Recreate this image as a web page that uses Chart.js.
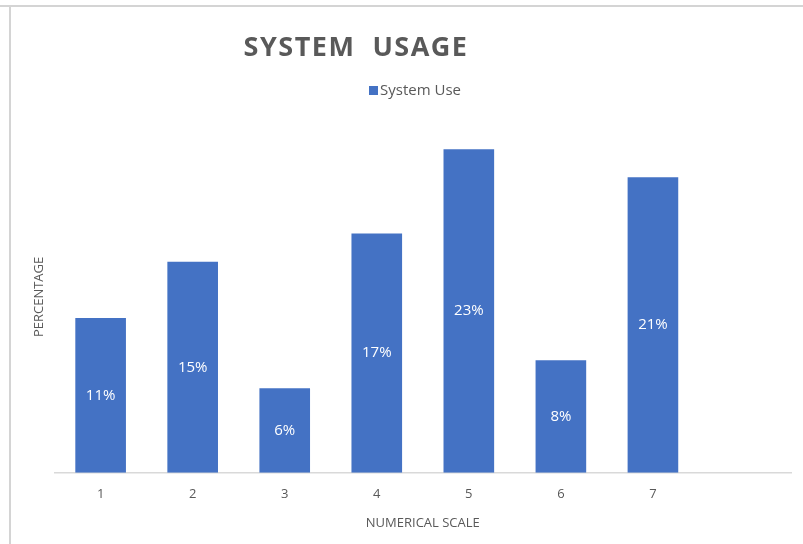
<!DOCTYPE html>
<html>
<head>
<meta charset="utf-8">
<script src="https://cdn.jsdelivr.net/npm/chart.js@4.4.1/dist/chart.umd.min.js"></script>
<style>
  html, body { margin: 0; padding: 0; background: #ffffff; }
  #wrap { width: 803px; height: 544px; position: relative; }
</style>
</head>
<body>
<div id="wrap"><canvas id="c" width="803" height="544"></canvas></div>
<script>
const categories = ['1', '2', '3', '4', '5', '6', '7', ''];
const systemUse = [11, 15, 6, 17, 23, 8, 21, null];
const seriesName = 'System Use';
const chartTitle = 'SYSTEM  USAGE';
const xTitle = 'NUMERICAL SCALE';
const yTitle = 'PERCENTAGE';

const BLUE = '#4472C4';
const GREY = '#595959';
const FONT = "'Open Sans', 'Liberation Sans', sans-serif";

const decor = {
  id: 'decor',
  beforeDraw(chart) {
    const ctx = chart.ctx;
    ctx.save();
    ctx.fillStyle = '#ffffff';
    ctx.fillRect(0, 0, chart.width, chart.height);
    ctx.strokeStyle = '#d4d4d4';
    ctx.lineWidth = 2;
    ctx.beginPath();
    ctx.moveTo(0, 6); ctx.lineTo(chart.width, 6);
    ctx.moveTo(10, 6); ctx.lineTo(10, chart.height);
    ctx.stroke();
    ctx.restore();
  },
  afterDraw(chart) {
    const ctx = chart.ctx;
    ctx.save();
    // title
    ctx.fillStyle = GREY;
    ctx.font = "bold 27px " + FONT;
    ctx.letterSpacing = '1.5px';
    ctx.textAlign = 'center';
    ctx.textBaseline = 'middle';
    ctx.fillText(chartTitle, 356, 48);
    ctx.letterSpacing = '0px';
    // legend
    ctx.font = "15px " + FONT;
    ctx.textAlign = 'left';
    ctx.fillStyle = BLUE;
    ctx.fillRect(369, 86, 9, 9);
    ctx.fillStyle = GREY;
    ctx.fillText(seriesName, 380, 91);
    // data labels
    const meta = chart.getDatasetMeta(0);
    ctx.font = "15px " + FONT;
    ctx.textAlign = 'center';
    ctx.fillStyle = '#ffffff';
    meta.data.forEach((bar, i) => {
      const v = systemUse[i];
      if (v === null || v === undefined) return;
      const p = bar.getProps(['x', 'y', 'base'], true);
      ctx.fillText(v + '%', p.x, (p.y + p.base) / 2);
    });
    ctx.restore();
  }
};

new Chart(document.getElementById('c'), {
  type: 'bar',
  data: {
    labels: categories,
    datasets: [{
      label: seriesName,
      data: systemUse,
      backgroundColor: BLUE,
      borderWidth: 0,
      barPercentage: 0.55,
      categoryPercentage: 1.0
    }]
  },
  options: {
    responsive: false,
    animation: false,
    layout: { padding: { left: 27, right: 12, top: 121, bottom: 13 } },
    plugins: {
      legend: { display: false },
      title: { display: false },
      tooltip: { enabled: false }
    },
    scales: {
      x: {
        grid: { display: false },
        border: { display: true, color: '#d9d9d9', width: 1.5 },
        ticks: { color: GREY, font: { family: FONT, size: 13 }, padding: 6 },
        title: { display: true, text: xTitle, color: GREY, font: { family: FONT, size: 13 }, padding: { top: 7, bottom: 0 } }
      },
      y: {
        min: 0,
        max: 25,
        grid: { display: false },
        border: { display: false },
        ticks: { display: false, stepSize: 5 },
        title: { display: true, text: yTitle, color: GREY, font: { family: FONT, size: 13 }, padding: { top: 4, bottom: 0 } }
      }
    }
  },
  plugins: [decor]
});
</script>
</body>
</html>
